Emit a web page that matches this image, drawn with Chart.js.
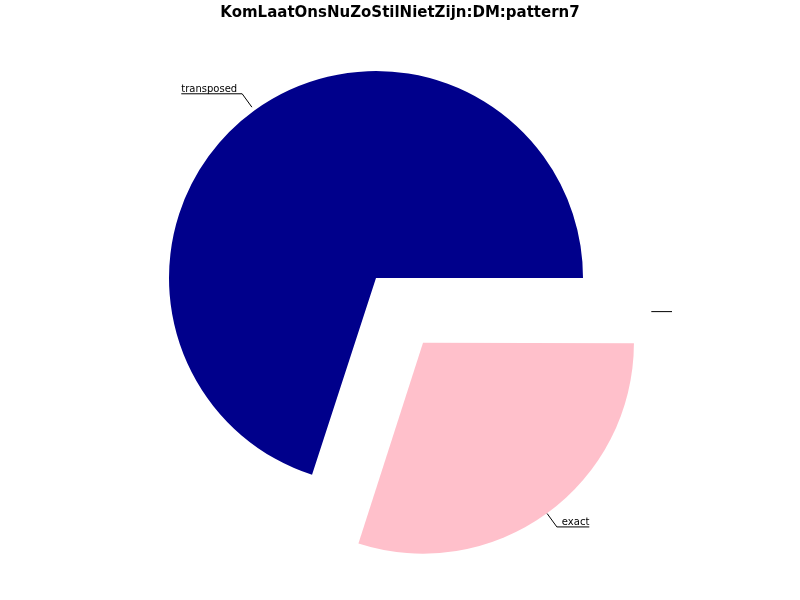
<!DOCTYPE html>
<html>
<head>
<meta charset="utf-8">
<script src="https://cdn.jsdelivr.net/npm/chart.js@4"></script>
<style>
  html, body { margin: 0; padding: 0; background: #fff; }
  #wrap { width: 800px; height: 600px; }
</style>
</head>
<body>
<div id="wrap"><canvas id="pie"></canvas></div>
<script>
// data
const labels = ["exact", "transposed", ""];
const values = [30, 70, 0];
const colors = ["#ffc0cb", "#00008b", "#cccccc"];
const explode = [320, 0, 0];
const titleText = "KomLaatOnsNuZoStilNietZijn:DM:pattern7";

/* title centred on the whole canvas, not on the plot area */
const pageTitle = {
  id: "pageTitle",
  afterDraw(chart) {
    const ctx = chart.ctx;
    ctx.save();
    ctx.fillStyle = "#000";
    ctx.font = "bold 15px 'DejaVu Sans'";
    ctx.textAlign = "center";
    ctx.textBaseline = "middle";
    ctx.fillText(titleText, chart.width / 2, 13);
    ctx.restore();
  }
};

/* labels with leader lines, drawn from the arc elements */
const leaderLabels = {
  id: "leaderLabels",
  afterDatasetsDraw(chart) {
    const ctx = chart.ctx;
    const arcs = chart.getDatasetMeta(0).data;
    ctx.save();
    ctx.strokeStyle = "#000";
    ctx.fillStyle = "#000";
    ctx.lineWidth = 1;
    ctx.font = "10px 'DejaVu Sans'";
    ctx.textBaseline = "alphabetic";
    arcs.forEach((arc, i) => {
      const r = arc.outerRadius;
      const mid = (arc.startAngle + arc.endAngle) / 2;
      const off = (arc.options.offset || 0) / 4;
      const cx = arc.x + Math.cos(mid) * off;
      const cy = arc.y + Math.sin(mid) * off;
      if (values[i] === 0) {
        // empty label of the zero slice
        const y = arc.y + r * 0.16;
        ctx.beginPath();
        ctx.moveTo(arc.x + r * 1.33, y + 0.5);
        ctx.lineTo(arc.x + r * 1.43, y + 0.5);
        ctx.stroke();
        return;
      }
      const sx = cx + Math.cos(mid) * r * 1.02, sy = cy + Math.sin(mid) * r * 1.02;
      const ex = cx + Math.cos(mid) * r * 1.1, ey = cy + Math.sin(mid) * r * 1.1;
      const w = ctx.measureText(labels[i]).width;
      const dir = Math.cos(mid) >= 0 ? 1 : -1;
      ctx.beginPath();
      ctx.moveTo(sx, sy);
      ctx.lineTo(ex, ey);
      ctx.lineTo(ex + dir * (w + 5), ey);
      ctx.stroke();
      ctx.textAlign = dir > 0 ? "left" : "right";
      ctx.fillText(labels[i], ex + dir * 5, ey - 2);
    });
    ctx.restore();
  }
};

new Chart(document.getElementById("pie").getContext("2d"), {
  type: "pie",
  data: {
    labels: labels,
    datasets: [{
      data: values,
      backgroundColor: colors,
      borderWidth: 0,
      offset: explode,
      hoverOffset: 0,
    }],
  },
  options: {
    responsive: true,
    maintainAspectRatio: false,
    animation: false,
    rotation: 90,
    radius: 207,
    layout: { padding: { left: 0, right: 48, top: 33, bottom: 77 } },
    plugins: {
      legend: { display: false },
      tooltip: { enabled: false },
      title: { display: false },
    },
  },
  plugins: [leaderLabels, pageTitle],
});
</script>
</body>
</html>
